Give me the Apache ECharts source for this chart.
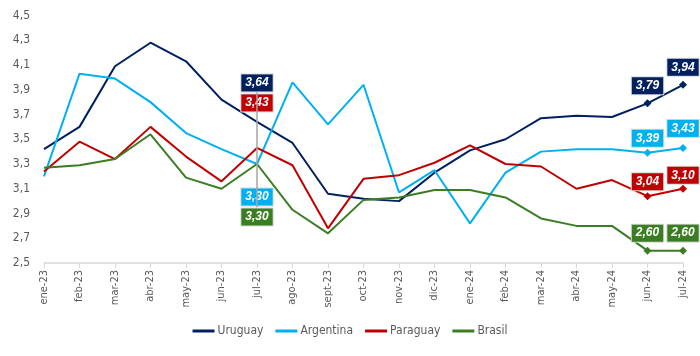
<!DOCTYPE html>
<html>
<head>
<meta charset="utf-8">
<script src="https://cdn.jsdelivr.net/npm/echarts@6/dist/echarts.min.js"></script>
<style>html,body{margin:0;padding:0;background:#fff}#c{width:700px;height:356px}</style>
</head>
<body>
<div id="c"></div>
<script>
const categories = ['ene-23','feb-23','mar-23','abr-23','may-23','jun-23','jul-23','ago-23','sept-23','oct-23','nov-23','dic-23','ene-24','feb-24','mar-24','abr-24','may-24','jun-24','jul-24'];
const uruguay   = [3.42,3.60,4.09,4.28,4.13,3.82,3.64,3.47,3.06,3.02,3.00,3.23,3.41,3.50,3.67,3.69,3.68,3.79,3.94];
const argentina = [3.20,4.03,3.99,3.80,3.55,3.42,3.30,3.96,3.62,3.94,3.07,3.25,2.82,3.23,3.40,3.42,3.42,3.39,3.43];
const paraguay  = [3.24,3.48,3.34,3.60,3.36,3.16,3.43,3.29,2.78,3.18,3.21,3.31,3.45,3.30,3.28,3.10,3.17,3.04,3.10];
const brasil    = [3.27,3.29,3.34,3.54,3.19,3.10,3.30,2.93,2.74,3.01,3.03,3.09,3.09,3.03,2.86,2.80,2.80,2.60,2.60];
const yTicks = [2.5,2.7,2.9,3.1,3.3,3.5,3.7,3.9,4.1,4.3,4.5];
const midLabelCategory = 'jul-23';

const fmt2 = v => v.toFixed(2).replace('.', ',');
const FONT = "'Liberation Sans Narrow','DejaVu Sans Condensed','Roboto',sans-serif";
const midIndex = categories.indexOf(midLabelCategory);

function buildData(values, color, endDist) {
  const n = values.length;
  return values.map((v, i) => {
    const item = { value: v, symbol: 'none' };
    const labelBase = {
      show: true,
      formatter: p => fmt2(p.value),
      color: '#fff',
      fontWeight: 'bold',
      fontStyle: 'italic',
      fontSize: 12,
      lineHeight: 13,
      fontFamily: "'Liberation Sans','Arial',sans-serif",
      backgroundColor: color,
      borderColor: '#d9d9d9',
      borderWidth: 1,
      padding: [2, 4, 2, 4]
    };
    if (i >= n - 2) {
      item.symbol = 'diamond';
      item.symbolSize = 8;
      item.label = Object.assign({}, labelBase, { position: 'top', distance: endDist[i - (n - 2)] });
    } else if (i === midIndex) {
      item.symbol = 'circle';
      item.symbolSize = 1;
      item.label = Object.assign({}, labelBase, { position: 'inside' });
    }
    return item;
  });
}

const colors = { Uruguay: '#002060', Argentina: '#00B0F0', Paraguay: '#C00000', Brasil: '#3B7D23' };

function series(name, values, midOffset, endDist, extra) {
  return Object.assign({
    name, type: 'line', data: buildData(values, colors[name], endDist),
    showSymbol: true, showAllSymbol: true, symbol: 'none',
    lineStyle: { width: 2, color: colors[name] },
    itemStyle: { color: colors[name] },
    emphasis: { disabled: true },
    labelLayout: p => (p.dataIndex === midIndex ? { dy: midOffset, hideOverlap: false } : { hideOverlap: false }),
    animation: false, z: 3
  }, extra || {});
}

const chart = echarts.init(document.getElementById('c'), null, { renderer: 'canvas' });
chart.setOption({
  animation: false,
  grid: { left: 44, right: 17, top: 15.5, bottom: 93, containLabel: false },
  legend: {
    bottom: 14, left: 'center', itemWidth: 22, itemHeight: 3, itemGap: 12,
    icon: 'rect',
    textStyle: { color: '#595959', fontSize: 12, fontFamily: FONT, padding: [0, 0, 0, -2] },
    data: ['Uruguay', 'Argentina', 'Paraguay', 'Brasil']
  },
  xAxis: {
    type: 'category', data: categories, boundaryGap: false,
    axisLine: { lineStyle: { color: '#d9d9d9', width: 1.5 } },
    axisTick: { show: true, alignWithLabel: true, length: 5, lineStyle: { color: '#d9d9d9' } },
    axisLabel: { rotate: 90, color: '#595959', fontSize: 11, fontFamily: FONT, margin: 7, interval: 0 }
  },
  yAxis: {
    type: 'value', min: yTicks[0], max: yTicks[yTicks.length - 1], interval: 0.2,
    splitLine: { show: false }, axisLine: { show: false }, axisTick: { show: false },
    axisLabel: { color: '#595959', fontSize: 12, fontFamily: FONT, margin: 14,
      formatter: v => v.toFixed(1).replace('.', ',') }
  },
  series: [
    series('Uruguay', uruguay, -39, [5, 5], {
      markLine: {
        silent: true, symbol: 'none', label: { show: false }, animation: false,
        lineStyle: { color: '#a6a6a6', width: 1.5, type: 'solid' },
        data: [[{ coord: [midLabelCategory, 3.88] }, { coord: [midLabelCategory, 2.95] }]]
      }
    }),
    series('Argentina', argentina, 33, [2, 7]),
    series('Paraguay', paraguay, -45, [2, 1]),
    series('Brasil', brasil, 53, [5, 5])
  ]
});
</script>
</body>
</html>
